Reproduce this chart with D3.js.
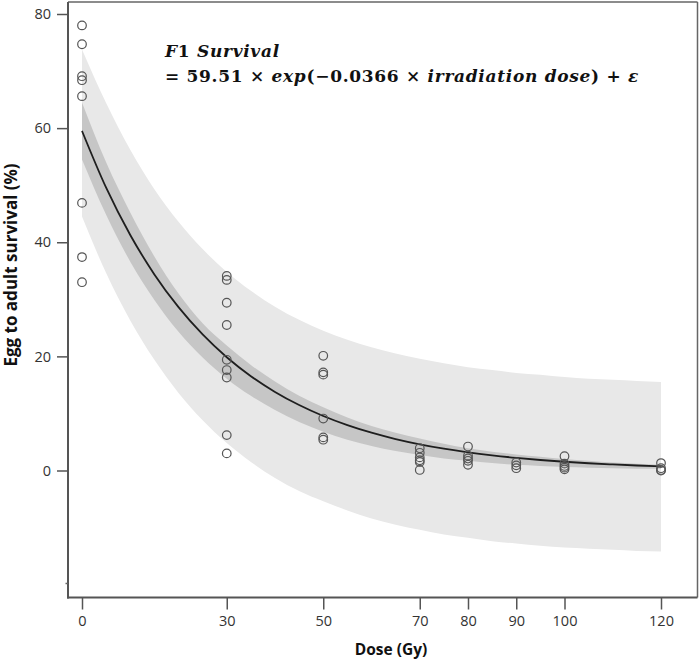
<!DOCTYPE html>
<html>
<head>
<meta charset="utf-8">
<script src="https://cdn.jsdelivr.net/npm/d3@7"></script>
<style>
  html, body { margin: 0; padding: 0; background: #fff; }
  svg { display: block; }
</style>
</head>
<body>
<div id="chart"></div>
<script>
// ---------- data ----------
const doseTicks = [0, 30, 50, 70, 80, 90, 100, 120];
const survivalTicks = [0, 20, 40, 60, 80];

// observed egg-to-adult survival (%) per dose (Gy)
const obsDose = [
  0, 0, 0, 0, 0, 0, 0, 0,
  30, 30, 30, 30, 30, 30, 30, 30, 30,
  50, 50, 50, 50, 50, 50,
  70, 70, 70, 70, 70, 70,
  80, 80, 80, 80, 80,
  90, 90, 90,
  100, 100, 100, 100, 100,
  120, 120, 120, 120
];
const obsSurvival = [
  78.0, 74.7, 69.1, 68.4, 65.6, 46.9, 37.4, 33.0,
  34.1, 33.4, 29.4, 25.5, 19.4, 17.6, 16.3, 6.2, 3.0,
  20.1, 17.2, 16.8, 9.1, 5.8, 5.4,
  3.9, 3.1, 2.3, 1.8, 1.5, 0.1,
  4.2, 2.6, 2.1, 1.7, 1.0,
  1.4, 0.9, 0.4,
  2.5, 1.2, 0.8, 0.5, 0.2,
  1.3, 0.4, 0.1, 0.0
];

// fitted curve and bands, read at 5 Gy steps
const gridDose = [0,5,10,15,20,25,30,35,40,45,50,55,60,65,70,75,80,85,90,95,100,105,110,115,120];
const fitValue = [59.51,49.56,41.27,34.37,28.62,23.84,19.85,16.53,13.77,11.47,9.55,7.95,6.62,5.51,4.59,3.82,3.18,2.65,2.21,1.84,1.53,1.27,1.06,0.88,0.74];
const piUpper  = [73.8,64.4,56.2,49.3,43.6,38.8,34.8,31.5,28.7,26.4,24.5,22.9,21.6,20.5,19.6,18.8,18.1,17.6,17.1,16.8,16.4,16.1,15.9,15.7,15.5];
const piLower  = [44.5,34.6,26.3,19.4,13.6,8.8,4.8,1.5,-1.3,-3.6,-5.4,-7.0,-8.4,-9.5,-10.4,-11.2,-11.8,-12.4,-12.8,-13.2,-13.5,-13.7,-13.9,-14.1,-14.2];
const ciUpper  = [64.5,54.0,45.2,37.5,31.0,25.8,21.9,18.5,15.6,13.1,11.1,9.3,7.8,6.6,5.6,4.7,3.9,3.3,2.8,2.4,2.0,1.7,1.4,1.2,1.0];
const ciLower  = [54.5,44.8,36.6,29.9,24.3,19.8,16.1,13.1,10.6,8.5,6.8,5.4,4.3,3.4,2.7,2.1,1.7,1.3,1.0,0.8,0.6,0.5,0.4,0.3,0.3];

// ---------- drawing ----------
const W = 700, H = 661;
const svg = d3.select("#chart").append("svg").attr("width", W).attr("height", H);

const x = d3.scaleLinear().domain([0, 120]).range([82, 661]);
const y = d3.scaleLinear().domain([0, 80]).range([470.5, 14]);

const frame = { left: 68, right: 697.5, top: 2, bottom: 597.5 };

const grid = gridDose.map((d, i) => ({
  d, fit: fitValue[i], pu: piUpper[i], pl: piLower[i], cu: ciUpper[i], cl: ciLower[i]
}));

const band = (lo, hi) => d3.area().x(p => x(p.d)).y0(p => y(p[lo])).y1(p => y(p[hi])).curve(d3.curveMonotoneX);

svg.append("path").datum(grid).attr("d", band("pl", "pu")).attr("fill", "#e8e8e8");
svg.append("path").datum(grid).attr("d", band("cl", "cu")).attr("fill", "#c6c6c6");
svg.append("path").datum(grid)
  .attr("d", d3.line().x(p => x(p.d)).y(p => y(p.fit)).curve(d3.curveMonotoneX))
  .attr("fill", "none").attr("stroke", "#1e1e1e").attr("stroke-width", 1.8);

// points
svg.append("g").selectAll("circle")
  .data(obsDose.map((d, i) => ({ d, v: obsSurvival[i] })))
  .join("circle")
  .attr("cx", p => x(p.d)).attr("cy", p => y(p.v)).attr("r", 4.3)
  .attr("fill", "none").attr("stroke", "#555").attr("stroke-width", 1.2);

// frame
svg.append("line").attr("x1", frame.left).attr("x2", frame.right).attr("y1", frame.top).attr("y2", frame.top)
  .attr("stroke", "#666").attr("stroke-width", 1.5);
svg.append("line").attr("x1", frame.right).attr("x2", frame.right).attr("y1", frame.top).attr("y2", frame.bottom)
  .attr("stroke", "#666").attr("stroke-width", 1.5);
svg.append("line").attr("x1", frame.left).attr("x2", frame.left).attr("y1", frame.top).attr("y2", frame.bottom + 1)
  .attr("stroke", "#555").attr("stroke-width", 2);
svg.append("line").attr("x1", frame.left - 1).attr("x2", frame.right).attr("y1", frame.bottom).attr("y2", frame.bottom)
  .attr("stroke", "#555").attr("stroke-width", 2);
// small stub on the left axis
svg.append("line").attr("x1", frame.left - 2.5).attr("x2", frame.left).attr("y1", y(-19.8)).attr("y2", y(-19.8))
  .attr("stroke", "#666").attr("stroke-width", 1.5);

const tickFont = "'Open Sans', 'Noto Sans', sans-serif";

// y axis
const gy = svg.append("g").attr("transform", `translate(${frame.left},0)`)
  .call(d3.axisLeft(y).tickValues(survivalTicks).tickSize(11).tickPadding(6).tickFormat(d3.format("d")));
gy.select(".domain").remove();
gy.selectAll(".tick line").attr("stroke", "#555").attr("stroke-width", 1.5);
gy.selectAll(".tick text").attr("fill", "#333").style("font-family", tickFont).style("font-size", "14.5px");

// x axis
const gx = svg.append("g").attr("transform", `translate(0,${frame.bottom})`)
  .call(d3.axisBottom(x).tickValues(doseTicks).tickSize(12).tickPadding(6).tickFormat(d3.format("d")));
gx.select(".domain").remove();
gx.selectAll(".tick line").attr("stroke", "#555").attr("stroke-width", 1.5);
gx.selectAll(".tick text").attr("fill", "#333").style("font-family", tickFont).style("font-size", "14.5px");

// axis titles
svg.append("text").attr("x", 391).attr("y", 655).attr("text-anchor", "middle")
  .style("font-family", tickFont).style("font-weight", "bold").style("font-size", "15.5px").attr("fill", "#111")
  .text("Dose (Gy)");
svg.append("text").attr("transform", "translate(17,265) rotate(-90)").attr("text-anchor", "middle")
  .style("font-family", tickFont).style("font-weight", "bold").style("font-size", "17px").attr("fill", "#111")
  .text("Egg to adult survival (%)");

// equation
const eq = svg.append("g").style("font-family", "'DejaVu Serif', 'Liberation Serif', serif")
  .style("font-weight", "bold").style("font-size", "17px").style("letter-spacing", "0.7px").attr("fill", "#111");
const l1 = eq.append("text").attr("x", 165).attr("y", 57);
l1.append("tspan").style("font-style", "italic").text("F");
l1.append("tspan").text("1 ");
l1.append("tspan").style("font-style", "italic").text("Survival");
const l2 = eq.append("text").attr("x", 165).attr("y", 82).attr("xml:space", "preserve");
const parts = [
  ["= 59.51 × ", false], ["exp", true], ["(−0.0366 × ", false],
  ["irradiation dose", true], [") + ", false], ["ε", true]
];
parts.forEach(([t, it]) => l2.append("tspan").style("font-style", it ? "italic" : "normal").text(t));
</script>
</body>
</html>
